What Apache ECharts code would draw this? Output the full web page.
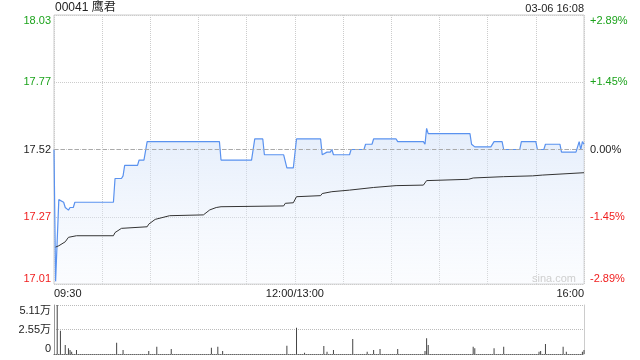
<!DOCTYPE html>
<html><head><meta charset="utf-8">
<script src="https://cdn.jsdelivr.net/npm/echarts@6/dist/echarts.min.js"></script>
<style>html,body{margin:0;padding:0;background:#fff}#c{width:640px;height:360px}</style>
</head><body><div id="c"></div>
<script>
// minutes from 09:30 (trading minutes, lunch removed), 0..330
const priceMin = [0,1,2,3,6,7,9,10,12,13,37,38,42,43,44,52,53,56,58,103,104,123,125,130,131,143,145,149,151,166,167,170,172,173,174,184,185,193,194,198,199,213,214,230,231,232,233,259,260,262,272,274,279,280,290,291,300,301,305,306,315,316,325,327,328,329,330];
const priceVal = [17.52,17.02,17.02,17.33,17.32,17.30,17.29,17.30,17.30,17.32,17.32,17.41,17.41,17.42,17.46,17.46,17.48,17.48,17.55,17.55,17.48,17.48,17.56,17.56,17.50,17.50,17.45,17.45,17.56,17.56,17.50,17.51,17.51,17.52,17.50,17.50,17.52,17.52,17.54,17.54,17.56,17.56,17.55,17.55,17.54,17.60,17.58,17.58,17.54,17.53,17.53,17.55,17.55,17.52,17.52,17.55,17.55,17.52,17.52,17.54,17.54,17.51,17.51,17.55,17.52,17.55,17.54];
const avgMin = [1,3,7,9,14,37,38,42,58,59,63,72,93,97,101,104,143,144,149,151,166,167,173,184,185,199,213,230,232,258,261,280,298,304,330];
const avgVal = [17.15,17.155,17.17,17.187,17.193,17.193,17.205,17.221,17.227,17.237,17.255,17.269,17.272,17.291,17.30,17.303,17.306,17.316,17.318,17.341,17.345,17.353,17.36,17.366,17.37,17.376,17.383,17.385,17.402,17.407,17.412,17.417,17.42,17.423,17.432];
const volMin = [2,4,7,9,10,11,14,39,43,59,64,73,98,102,105,145,151,156,168,170,174,186,195,199,203,214,231,232,233,261,262,274,280,302,303,306,317,319,329,330];
const volVal = [51100,24300,9400,5900,4200,2400,4200,11800,4200,3100,7600,5200,6600,7600,3100,8700,27400,1400,8300,2400,4200,15600,2400,4200,5200,5200,3100,16300,9400,7600,5900,5900,7600,2400,3100,10400,7600,2400,2400,4200];

const prevClose = 17.52;
const priceLow = 17.01, priceHigh = 18.03;
const priceLabels = ['17.01','17.27','17.52','17.77','18.03'];
const pctLabels = ['-2.89%','-1.45%','0.00%','+1.45%','+2.89%'];
const volMax = 51100;
const volLabels = ['0','2.55万','5.11万'];
const timeLabels = {0:'09:30',150:'12:00/13:00',330:'16:00'};
const titleText = '00041 鹰君';
const dateText = '03-06 16:08';

const GREEN = '#1ca31c', RED = '#f01e1e', DARK = '#222';
const labelColor = (i) => i < 2 ? RED : (i === 2 ? DARK : GREEN);
const FONT = '"Liberation Sans", Arial, "Noto Sans CJK SC", sans-serif';

const chart = echarts.init(document.getElementById('c'));
chart.setOption({
  animation: false,
  textStyle: {fontFamily: FONT},
  title: {text: titleText, left: 55, top: 2, padding: 0,
    textStyle: {fontSize: 12, fontWeight: 'normal', color: '#222', fontFamily: FONT}},
  graphic: [
    {type: 'text', right: 56, top: 3, style: {text: dateText, fill: '#222', font: '11px ' + FONT}},
    {type: 'text', left: 532, top: 273, z: 100, style: {text: 'sina.com', fill: '#cfcfcf', font: '11px ' + FONT}}
  ],
  grid: [
    {left: 54, right: 56, top: 15, height: 269, show: true, borderColor: '#ccc', borderWidth: 1, backgroundColor: 'transparent'},
    {left: 54, right: 56, top: 305, height: 49}
  ],
  xAxis: [
    {type: 'value', gridIndex: 0, min: 0, max: 330, interval: 30,
      axisLine: {show: false}, axisTick: {show: false},
      splitLine: {show: true, lineStyle: {type: 'dotted', color: '#ccc'}},
      axisLabel: {show: true, margin: 4, fontSize: 11, color: '#222', fontFamily: FONT,
        alignMinLabel: 'left', alignMaxLabel: 'right',
        formatter: v => timeLabels[v] || ''}},
    {type: 'value', gridIndex: 1, min: 0, max: 330, interval: 30,
      axisLine: {show: true, onZero: false, lineStyle: {type: 'dotted', color: '#666'}},
      axisTick: {show: false}, splitLine: {show: false}, axisLabel: {show: false}}
  ],
  yAxis: [
    {type: 'value', gridIndex: 0, min: priceLow, max: priceHigh, show: false, scale: true},
    {type: 'value', gridIndex: 0, min: 0, max: 4, interval: 1, position: 'left',
      axisLine: {show: false}, axisTick: {show: false},
      splitLine: {show: true, lineStyle: {type: 'dotted', color: '#ccc'}},
      axisLabel: {margin: 3, fontSize: 11, fontFamily: FONT,
        verticalAlignMinLabel: 'bottom', verticalAlignMaxLabel: 'top',
        formatter: v => priceLabels[v], color: (v, i) => labelColor(Math.round(v))}},
    {type: 'value', gridIndex: 0, min: 0, max: 4, interval: 1, position: 'right',
      axisLine: {show: false}, axisTick: {show: false}, splitLine: {show: false},
      axisLabel: {margin: 6, fontSize: 11, fontFamily: FONT,
        verticalAlignMinLabel: 'bottom', verticalAlignMaxLabel: 'top',
        formatter: v => pctLabels[v], color: (v, i) => labelColor(Math.round(v))}},
    {type: 'value', gridIndex: 1, min: 0, max: volMax, interval: volMax / 2, position: 'left',
      axisLine: {show: true, lineStyle: {color: '#999'}}, axisTick: {show: false},
      splitLine: {show: true, lineStyle: {type: 'dotted', color: '#bbb'}},
      axisLabel: {margin: 3, fontSize: 11, color: '#222', fontFamily: FONT,
        verticalAlignMinLabel: 'bottom', verticalAlignMaxLabel: 'top',
        formatter: v => volLabels[Math.round(v / (volMax / 2))]}},
    {type: 'value', gridIndex: 1, min: 0, max: volMax, position: 'right',
      axisLine: {show: true, lineStyle: {color: '#ccc'}}, axisTick: {show: false},
      splitLine: {show: false}, axisLabel: {show: false}}
  ],
  series: [
    {type: 'line', xAxisIndex: 0, yAxisIndex: 0, symbol: 'none',
      data: priceMin.map((m, i) => [m, priceVal[i]]),
      lineStyle: {color: '#5a92ef', width: 1.2},
      areaStyle: {origin: 'start', color: new echarts.graphic.LinearGradient(0, 0, 0, 1, [
        {offset: 0, color: 'rgba(205,222,248,0.75)'}, {offset: 1, color: 'rgba(240,245,253,0.4)'}])},
      markLine: {silent: true, symbol: 'none', label: {show: false},
        lineStyle: {type: [4, 3], color: '#aaa', width: 1}, data: [{yAxis: prevClose}]},
      z: 3},
    {type: 'line', xAxisIndex: 0, yAxisIndex: 0, symbol: 'none',
      data: avgMin.map((m, i) => [m, avgVal[i]]),
      lineStyle: {color: '#333', width: 1}, z: 4},
    {type: 'bar', xAxisIndex: 1, yAxisIndex: 3, barWidth: 1,
      data: volMin.map((m, i) => [m, volVal[i]]),
      itemStyle: {color: '#444'}}
  ]
});
</script></body></html>
